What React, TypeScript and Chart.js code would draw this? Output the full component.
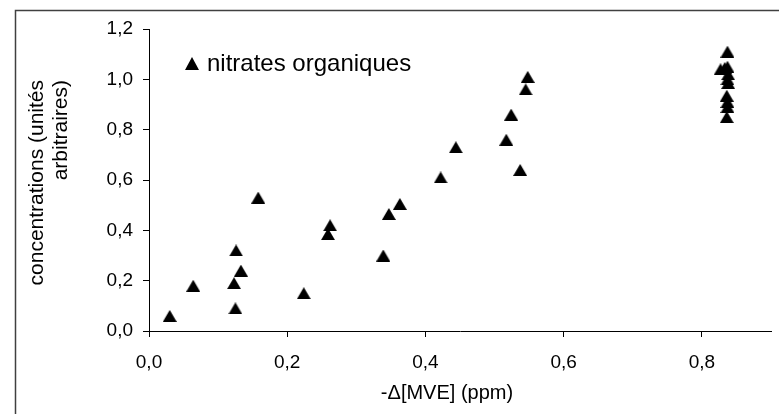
import React, { useEffect, useRef } from 'react';
import { Chart, registerables } from 'chart.js';

Chart.register(...registerables);

// Data (x = -Δ[MVE] in ppm, y = concentrations)
const xValues = [
  0.03, 0.064, 0.125, 0.123, 0.126, 0.133, 0.158, 0.224, 0.259, 0.262,
  0.339, 0.347, 0.363, 0.422, 0.444, 0.517, 0.524, 0.537, 0.545, 0.548,
  0.837, 0.827, 0.833, 0.837, 0.838, 0.837, 0.838, 0.836, 0.837, 0.837, 0.836,
];
const yValues = [
  0.06, 0.18, 0.09, 0.19, 0.32, 0.24, 0.53, 0.15, 0.385, 0.42,
  0.30, 0.465, 0.505, 0.61, 0.73, 0.76, 0.86, 0.64, 0.96, 1.01,
  1.11, 1.04, 1.045, 1.05, 1.02, 1.0, 0.985, 0.935, 0.91, 0.89, 0.85,
];

const seriesName = 'nitrates organiques';
const xTickValues = [0, 0.2, 0.4, 0.6, 0.8];
const xTickLabels = ['0,0', '0,2', '0,4', '0,6', '0,8'];
const yTickValues = [0, 0.2, 0.4, 0.6, 0.8, 1.0, 1.2];
const yTickLabels = ['0,0', '0,2', '0,4', '0,6', '0,8', '1,0', '1,2'];
const xTitle = '-Δ[MVE] (ppm)';
const yTitleLines = ['concentrations (unités', 'arbitraires)'];

const FONT = '"Liberation Sans", Arial, sans-serif';

function makeTriangle(w: number, h: number): HTMLCanvasElement {
  const c = document.createElement('canvas');
  c.width = w;
  c.height = h;
  const ctx = c.getContext('2d')!;
  ctx.fillStyle = '#000';
  ctx.beginPath();
  ctx.moveTo(w / 2, 0);
  ctx.lineTo(w, h);
  ctx.lineTo(0, h);
  ctx.closePath();
  ctx.fill();
  return c;
}

export default function App() {
  const ref = useRef<HTMLCanvasElement | null>(null);

  useEffect(() => {
    if (!ref.current) return;
    const marker = makeTriangle(14, 12);
    const legendMarker = makeTriangle(14, 13);

    const decor = {
      id: 'decor',
      afterDraw(chart: any) {
        const ctx = chart.ctx as CanvasRenderingContext2D;
        ctx.save();
        // outer frame
        ctx.strokeStyle = '#404040';
        ctx.lineWidth = 1.5;
        ctx.strokeRect(15.5, 10.5, 1000, 1000);

        // legend
        ctx.drawImage(legendMarker, 185, 57);
        ctx.fillStyle = '#000';
        ctx.font = `24px ${FONT}`;
        ctx.textAlign = 'left';
        ctx.textBaseline = 'alphabetic';
        ctx.fillText(seriesName, 207, 71);

        // x title
        ctx.font = `20px ${FONT}`;
        ctx.textAlign = 'center';
        ctx.textBaseline = 'middle';
        ctx.fillText(xTitle, 447, 393);

        // y title (two lines, end-aligned at top)
        ctx.font = `21px ${FONT}`;
        const xs = [37, 61];
        yTitleLines.forEach((line, i) => {
          ctx.save();
          ctx.translate(xs[i], 80);
          ctx.rotate(-Math.PI / 2);
          ctx.textAlign = 'right';
          ctx.textBaseline = 'middle';
          ctx.fillText(line, 0, 0);
          ctx.restore();
        });
        ctx.restore();
      },
    };

    const chart = new Chart(ref.current, {
      type: 'scatter',
      data: {
        datasets: [
          {
            label: seriesName,
            data: xValues.map((x, i) => ({ x, y: yValues[i] })),
            pointStyle: marker as any,
            pointRadius: 7,
            backgroundColor: '#000',
            borderColor: '#000',
          },
        ],
      },
      options: {
        responsive: false,
        maintainAspectRatio: false,
        animation: false,
        events: [],
        layout: { padding: { top: 29, right: 1, left: 0, bottom: 0 } },
        plugins: {
          legend: { display: false },
          tooltip: { enabled: false },
        },
        scales: {
          x: {
            type: 'linear',
            min: 0,
            max: 0.9,
            afterFit: (s: any) => {
              s.height = 83;
            },
            afterBuildTicks: (s: any) => {
              s.ticks = xTickValues.map((v) => ({ value: v }));
            },
            ticks: {
              callback: (_v: any, i: number) => xTickLabels[i],
              color: '#000',
              font: { family: FONT, size: 19 },
              padding: 14,
              maxRotation: 0,
              autoSkip: false,
            },
            grid: {
              drawOnChartArea: false,
              drawTicks: true,
              tickLength: 6,
              color: '#000',
              tickColor: '#000',
            },
            border: { display: true, color: '#000', width: 1 },
          },
          y: {
            type: 'linear',
            min: 0,
            max: 1.2,
            afterFit: (s: any) => {
              s.width = 149;
            },
            afterBuildTicks: (s: any) => {
              s.ticks = yTickValues.map((v) => ({ value: v }));
            },
            ticks: {
              callback: (_v: any, i: number) => yTickLabels[i],
              color: '#000',
              font: { family: FONT, size: 19 },
              padding: 10,
              autoSkip: false,
            },
            grid: {
              drawOnChartArea: false,
              drawTicks: true,
              tickLength: 6,
              color: '#000',
              tickColor: '#000',
            },
            border: { display: true, color: '#000', width: 1 },
          },
        },
      },
      plugins: [decor],
    });
    return () => chart.destroy();
  }, []);

  return (
    <div style={{ position: 'fixed', left: 0, top: 0, width: 779, height: 414, background: '#fff' }}>
      <canvas ref={ref} width={779} height={414} style={{ display: 'block' }} />
    </div>
  );
}
